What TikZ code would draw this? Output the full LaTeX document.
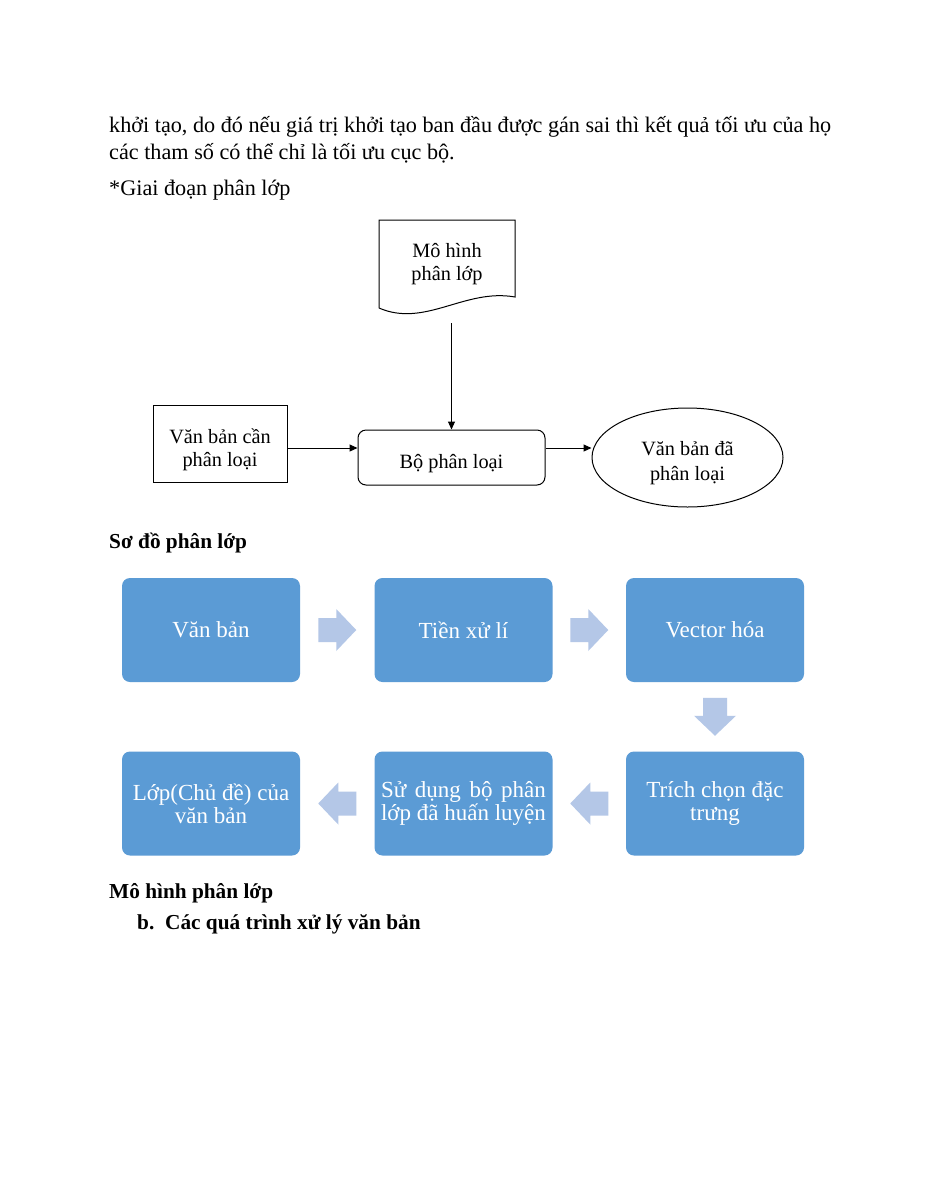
\documentclass[tikz,border=0pt]{standalone}
\usepackage{fontspec}
\setmainfont{Liberation Serif}
\usepackage{calc}
\usetikzlibrary{arrows.meta,shapes.geometric,calc}
\definecolor{boxblue}{HTML}{5B9BD5}
\definecolor{arrblue}{HTML}{B4C7E7}
\begin{document}
\begin{tikzpicture}[x=1pt,y=-1pt,
  txt/.style={font=\fontsize{22.2}{27}\selectfont, inner sep=0, anchor=base west},
  hd/.style={font=\fontsize{21.3}{27}\selectfont\bfseries, inner sep=0, anchor=base west},
  lbl/.style={font=\fontsize{20.3}{23}\selectfont, align=center, inner sep=0},
  outline/.style={draw, line width=1pt},
  arr/.style={-{Triangle[length=8pt,width=7pt]}, line width=1pt},
  bluebox/.style={fill=boxblue, rounded corners=8pt, minimum width=178pt, minimum height=104pt,
    text=white, font=\fontsize{23}{23}\selectfont, align=center, inner sep=0},
  barrow/.pic={\fill[arrblue] (-19,-12) -- (-1,-12) -- (-1,-21) -- (19,0) -- (-1,21) -- (-1,12) -- (-19,12) -- cycle;}
]
\useasboundingbox[fill=white] (0,0) rectangle (927,1200);

% paragraph text
\node[txt] (p1) at (109,132) {khởi tạo, do đó nếu giá trị khởi tạo ban đầu được gán sai thì kết quả tối ưu của họ};
\node[txt] (p2) at (109,159) {các tham số có thể chỉ là tối ưu cục bộ.};
\node[txt] (p3) at (109,195) {*Giai đoạn phân lớp};

% diagram 1
\draw[outline] (379,308) -- (379,220) -- (515,220) -- (515,297)
  .. controls (465,288) and (425,328) .. (379,308);
\node[lbl] (doc) at (447,264) {Mô hình\\phân lớp};
\node[outline, minimum width=134pt, minimum height=77pt] (in1) at (220,443.5) {};
\node[lbl] (in1t) at (220,449.5) {Văn bản cần\\phân loại};
\node[outline, rounded corners=8pt, minimum width=187pt, minimum height=55pt] (clf) at (451.5,457.5) {};
\node[lbl] (clft) at (451.5,464) {Bộ phân loại};
\node[outline, ellipse, minimum width=191pt, minimum height=99pt] (ell) at (687.5,457.5) {};
\node[lbl, font=\fontsize{20.3}{24.5}\selectfont] (ellt) at (687.5,463) {Văn bản đã\\phân loại};
\coordinate (lvl) at (0,448);
\coordinate (docbot) at (0,323);
\draw[arr] (clf.north |- docbot) -- (clf.north);
\draw[arr] (in1.east |- lvl) -- (clf.west |- lvl);
\draw[arr] (clf.east |- lvl) -- (ell.west |- lvl);

\node[hd] (h1) at (109,548) {Sơ đồ phân lớp};

% diagram 2
\node[bluebox] (v1) at (211,630) {Văn bản};
\node[bluebox] (v2) at (463.5,630) {Tiền xử lí};
\node[bluebox] (v3) at (715,630) {Vector hóa};
\node[bluebox] (t3) at (715,803.5) {Trích chọn đặc\\trưng};
\node[bluebox] (t2) at (463.5,803.5) {\makebox[\widthof{lớp đã huấn luyện}][s]{Sử dụng bộ phân}\\lớp đã huấn luyện};
\node[bluebox] (t1) at (211,803.5) {Lớp(Chủ đề) của\\văn bản};
\pic at ($(v1.east)!0.5!(v2.west)$) {barrow};
\pic at ($(v2.east)!0.5!(v3.west)$) {barrow};
\pic[rotate=-90] at ($(v3.south)!0.5!(t3.north)$) {barrow};
\pic[rotate=180] at ($(t3.west)!0.5!(t2.east)$) {barrow};
\pic[rotate=180] at ($(t2.west)!0.5!(t1.east)$) {barrow};

\node[hd] (h2) at (109,898) {Mô hình phân lớp};
\node[hd] (h3) at (137,929) {\makebox[28pt][l]{b.}Các quá trình xử lý văn bản};
\end{tikzpicture}
\end{document}
